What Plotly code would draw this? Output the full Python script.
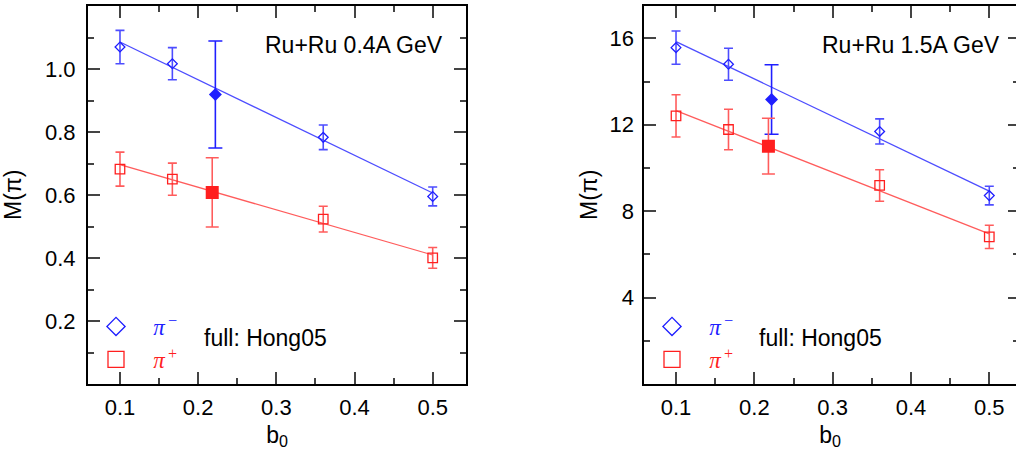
import plotly.graph_objects as go

# ---------------- data ----------------
# impact parameter b0 of the open points (filled points: Hong05)
b0_open = [0.1, 0.167, 0.36, 0.5]
b0_hong_pim = [0.222]
b0_hong_pip = [0.218]
b0_fit = [0.1, 0.5]

# Ru+Ru 0.4A GeV
m_pim_04 = [1.071, 1.018, 0.784, 0.596]
e_pim_04 = [0.053, 0.051, 0.039, 0.030]
m_pip_04 = [0.683, 0.651, 0.524, 0.401]
e_pip_04 = [0.054, 0.051, 0.041, 0.033]
hong_pim_04 = [0.920]
hong_pim_04_err = [0.170]
hong_pip_04 = [0.609]
hong_pip_04_err = [0.110]
fit_pim_04 = [1.087, 0.607]
fit_pip_04 = [0.697, 0.410]

# Ru+Ru 1.5A GeV
m_pim_15 = [15.57, 14.80, 11.69, 8.72]
e_pim_15 = [0.77, 0.74, 0.58, 0.43]
m_pip_15 = [12.41, 11.78, 9.19, 6.81]
e_pip_15 = [0.98, 0.94, 0.73, 0.54]
hong_pim_15 = [13.17]
hong_pim_15_err = [1.61]
hong_pip_15 = [11.01]
hong_pip_15_err = [1.29]
fit_pim_15 = [15.85, 8.93]
fit_pip_15 = [12.65, 6.95]

x_tick_vals = [0.1, 0.2, 0.3, 0.4, 0.5]
x_tick_text = ["0.1", "0.2", "0.3", "0.4", "0.5"]
y_tick_vals_04 = [0.2, 0.4, 0.6, 0.8, 1.0]
y_tick_text_04 = ["0.2", "0.4", "0.6", "0.8", "1.0"]
y_tick_vals_15 = [4, 8, 12, 16]
y_tick_text_15 = ["4", "8", "12", "16"]

panel_labels = ["Ru+Ru 0.4A GeV", "Ru+Ru 1.5A GeV"]

# ---------------- style ----------------
BLUE = "#1f1fff"
BLUE_L = "#4d4dff"
RED = "#ff1f1f"
RED_L = "#ff5c5c"
W, H = 1016, 459
FONT = "Liberation Sans, Arial, sans-serif"
SP = "\u00a0"


def px_x(p):
    return p / W


def px_y(p):
    return 1 - p / H


fig = go.Figure()

panels = [
    dict(xa="x", ya="y", leg="legend",
         pim=m_pim_04, epim=e_pim_04, pip=m_pip_04, epip=e_pip_04,
         hpim=hong_pim_04, ehpim=hong_pim_04_err, hpip=hong_pip_04, ehpip=hong_pip_04_err,
         fpim=fit_pim_04, fpip=fit_pip_04),
    dict(xa="x2", ya="y2", leg="legend2",
         pim=m_pim_15, epim=e_pim_15, pip=m_pip_15, epip=e_pip_15,
         hpim=hong_pim_15, ehpim=hong_pim_15_err, hpip=hong_pip_15, ehpip=hong_pip_15_err,
         fpim=fit_pim_15, fpip=fit_pip_15),
]

for p in panels:
    common = dict(xaxis=p["xa"], yaxis=p["ya"], hoverinfo="skip")
    # fit lines
    fig.add_trace(go.Scatter(x=b0_fit, y=p["fpim"], mode="lines",
                             line=dict(color=BLUE_L, width=1.3), showlegend=False, **common))
    fig.add_trace(go.Scatter(x=b0_fit, y=p["fpip"], mode="lines",
                             line=dict(color=RED_L, width=1.3), showlegend=False, **common))
    # open points
    fig.add_trace(go.Scatter(x=b0_open, y=p["pim"], mode="markers",
                             marker=dict(symbol="diamond-open", size=7.5, color=BLUE,
                                         line=dict(width=1.3, color=BLUE)),
                             error_y=dict(type="data", array=p["epim"], color=BLUE_L,
                                          thickness=1.6, width=4.5),
                             showlegend=False, **common))
    fig.add_trace(go.Scatter(x=b0_open, y=p["pip"], mode="markers",
                             marker=dict(symbol="square-open", size=9.5, color=RED,
                                         line=dict(width=1.3, color=RED)),
                             error_y=dict(type="data", array=p["epip"], color=RED_L,
                                          thickness=1.6, width=4.5),
                             showlegend=False, **common))
    # filled points (Hong05)
    fig.add_trace(go.Scatter(x=b0_hong_pim, y=p["hpim"], mode="markers",
                             marker=dict(symbol="diamond", size=10, color=BLUE),
                             error_y=dict(type="data", array=p["ehpim"], color=BLUE,
                                          thickness=1.6, width=7),
                             showlegend=False, **common))
    fig.add_trace(go.Scatter(x=b0_hong_pip, y=p["hpip"], mode="markers",
                             marker=dict(symbol="square", size=13, color=RED),
                             error_y=dict(type="data", array=p["ehpip"], color=RED_L,
                                          thickness=1.6, width=6.5),
                             showlegend=False, **common))
    # legend entries
    fig.add_trace(go.Scatter(x=[None], y=[None], mode="markers",
                             name=SP * 3 + '<span style="color:%s"><i>π</i><sup>\u2009−</sup></span>' % BLUE,
                             marker=dict(symbol="diamond-open", size=14, color=BLUE,
                                         line=dict(width=1.3, color=BLUE)),
                             legend=p["leg"], **common))
    fig.add_trace(go.Scatter(x=[None], y=[None], mode="markers",
                             name=SP * 3 + '<span style="color:%s"><i>π</i><sup>\u2009+</sup></span>' % RED,
                             marker=dict(symbol="square-open", size=16, color=RED,
                                         line=dict(width=1.3, color=RED)),
                             legend=p["leg"], **common))

axis_common = dict(showline=True, linecolor="black", linewidth=2,
                   ticks="inside", ticklen=12, tickwidth=1.5, tickcolor="#444",
                   showgrid=False, zeroline=False,
                   tickfont=dict(family=FONT, size=22, color="black"))

minor_x = dict(ticks="inside", ticklen=6, tickwidth=1.5, tickcolor="#444",
               tickmode="linear", tick0=0.05, dtick=0.05, showgrid=False)

fig.update_layout(
    width=W, height=H,
    margin=dict(l=0, r=0, t=0, b=0),
    paper_bgcolor="white", plot_bgcolor="white",
    font=dict(family=FONT, size=22, color="black"),
    xaxis=dict(domain=[px_x(88), px_x(466)], range=[0.0591, 0.5426], anchor="y",
               mirror="ticks", tickmode="array", tickvals=x_tick_vals, ticktext=x_tick_text,
               minor=minor_x, ticklabelstandoff=3,
               title=dict(text="b<sub>0</sub>", font=dict(size=23), standoff=7),
               **axis_common),
    yaxis=dict(domain=[px_y(384), px_y(5.5)], range=[0, 1.203], anchor="x",
               mirror="ticks", tickmode="array", tickvals=y_tick_vals_04, ticktext=y_tick_text_04,
               minor=dict(ticks="inside", ticklen=6, tickwidth=1.5, tickcolor="#444",
                          tickmode="linear", tick0=0, dtick=0.1, showgrid=False),
               ticklabelstandoff=6,
               title=dict(text="M(π)", font=dict(size=23), standoff=20),
               **axis_common),
    xaxis2=dict(domain=[px_x(644.3), 1.0], range=[0.0595, 0.5341], anchor="y2",
                mirror="ticks", tickmode="array", tickvals=x_tick_vals, ticktext=x_tick_text,
                minor=minor_x, ticklabelstandoff=3,
                title=dict(text="b<sub>0</sub>", font=dict(size=23), standoff=7),
                **axis_common),
    yaxis2=dict(domain=[px_y(384), px_y(5.5)], range=[0, 17.52], anchor="x2",
                mirror=False, tickmode="array", tickvals=y_tick_vals_15, ticktext=y_tick_text_15,
                minor=dict(ticks="inside", ticklen=6, tickwidth=1.5, tickcolor="#444",
                           tickmode="linear", tick0=0, dtick=2, showgrid=False),
                ticklabelstandoff=4,
                title=dict(text="M(π)", font=dict(size=23), standoff=5),
                **axis_common),
    # right-hand ticks of the right panel (its frame is cut by the picture edge)
    yaxis3=dict(overlaying="y2", anchor="x2", side="right", range=[0, 17.52],
                showline=False, showgrid=False, zeroline=False, showticklabels=False,
                ticks="inside", ticklen=8, tickwidth=1.5, tickcolor="#444",
                tickmode="array", tickvals=y_tick_vals_15,
                minor=dict(ticks="inside", ticklen=3, tickwidth=1.5, tickcolor="#444",
                           tickmode="linear", tick0=0, dtick=2, showgrid=False)),
    legend=dict(x=px_x(96), y=px_y(305), xanchor="left", yanchor="top",
                bgcolor="rgba(0,0,0,0)", tracegroupgap=0,
                font=dict(family="Liberation Serif, serif", size=23)),
    legend2=dict(x=px_x(652), y=px_y(305), xanchor="left", yanchor="top",
                 bgcolor="rgba(0,0,0,0)", tracegroupgap=0,
                 font=dict(family="Liberation Serif, serif", size=23)),
)

# invisible trace so the right-hand tick axis is rendered
fig.add_trace(go.Scatter(x=[None], y=[None], xaxis="x2", yaxis="y3", showlegend=False,
                         hoverinfo="skip"))

# panel labels
for xr, label in zip([445, 1002], panel_labels):
    fig.add_annotation(x=px_x(xr), y=px_y(45), xref="paper", yref="paper",
                       xanchor="right", yanchor="middle", showarrow=False,
                       text=label, font=dict(family=FONT, size=23, color="black"))
for xl in [202, 757]:
    fig.add_annotation(x=px_x(xl), y=px_y(338), xref="paper", yref="paper",
                       xanchor="left", yanchor="middle", showarrow=False,
                       text="full: Hong05", font=dict(family=FONT, size=23, color="black"))

fig.write_html("out.html",
               config={"displayModeBar": False},
               post_script="document.body.style.margin='0px';"
                           "document.body.style.overflow='hidden';")
